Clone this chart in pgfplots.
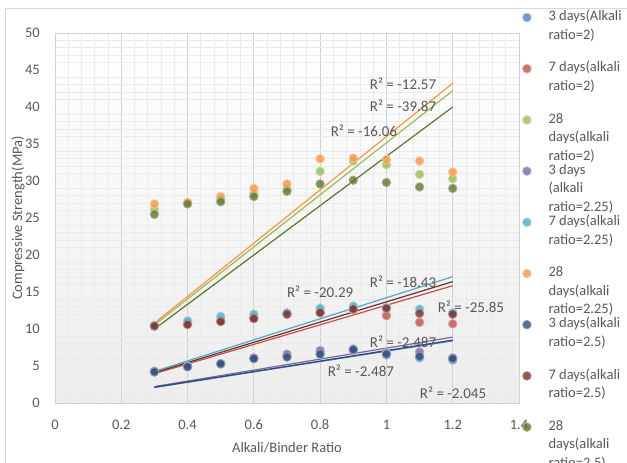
\documentclass[border=0pt]{standalone}
\usepackage{pgfplots}
\pgfplotsset{compat=1.18}
\usepackage{fontspec}
\setmainfont{Carlito}
\definecolor{cBlue}{HTML}{4F81BD}
\definecolor{cRed}{HTML}{C0504D}
\definecolor{cGreen}{HTML}{9BBB59}
\definecolor{cPurple}{HTML}{8064A2}
\definecolor{cAqua}{HTML}{4BACC6}
\definecolor{cOrange}{HTML}{F79646}
\definecolor{cDBlue}{HTML}{2C4D75}
\definecolor{cDRed}{HTML}{772C2A}
\definecolor{cDGreen}{HTML}{5F7530}
\definecolor{txt}{HTML}{595959}
\pgfplotsset{
  mk/.style={only marks, mark=*, mark size=4.3pt,
    mark options={fill=#1, fill opacity=0.8, draw=#1!55!white, line width=0.8pt}},
  tl/.style={forget plot, no markers, draw=#1, line width=1.2pt},
}
\newcommand{\lent}[1]{\smash{\raisebox{-4pt}{\parbox[t]{95pt}{\raggedright #1}}}}
\begin{document}
\begin{tikzpicture}
\useasboundingbox (0,0) rectangle (627pt,463pt);
\clip (0,0) rectangle (627pt,463pt);
\fill[white] (0,0) rectangle (627pt,463pt);
\draw[black!15, line width=0.8pt] (5pt,-20pt) -- (5pt,455pt) -- (660pt,455pt);
\begin{axis}[
  at={(55pt,60pt)}, anchor=south west,
  scale only axis, width=464pt, height=370pt,
  xmin=0, xmax=1.4, ymin=0, ymax=50,
  xtick={0,0.2,0.4,0.6,0.8,1,1.2,1.4},
  ytick={0,5,10,15,20,25,30,35,40,45,50},
  minor x tick num=4, minor y tick num=4,
  major tick length=0pt, minor tick length=0pt,
  xmajorgrids, xminorgrids, yminorgrids,
  major grid style={draw=black!18, line width=0.8pt},
  minor grid style={draw=black!8, line width=0.8pt},
  axis line style={draw=black!18, line width=0.8pt},
  axis background/.style={shade, top color=white, bottom color=black!7},
  /pgf/number format/assume math mode=true,
  tick label style={font=\fontsize{14.5}{17}\selectfont, text=txt, inner sep=0pt},
  xticklabel style={anchor=center, yshift=-22pt},
  yticklabel style={anchor=east, xshift=-15pt},
  xlabel={Alkali/Binder Ratio},
  ylabel={Compressive Strength(MPa)},
  label style={font=\fontsize{14.5}{17}\selectfont, text=txt},
  xlabel style={at={(axis description cs:0.5,-0.1216)}, anchor=center},
  ylabel style={at={(axis description cs:-0.0797,0.5)}, anchor=center},
  legend style={at={(axis description cs:1.0078,1.0535)}, anchor=north west,
    draw=none, fill=none, inner sep=0pt, outer sep=0pt, row sep=42.6pt, column sep=17.3pt,
    font=\fontsize{14.5}{18.5}\selectfont, text=txt,
    nodes={inner sep=0pt, outer sep=0pt}},
  legend cell align=left,
  legend image code/.code={\draw[#1, only marks] plot coordinates {(0pt,0pt)};},
]
% 3 days
\addplot[mk=cBlue] coordinates {(0.3,4.2) (0.4,4.9) (0.5,5.3) (0.6,6.0) (0.7,6.3) (0.8,6.7) (0.9,7.1) (1.0,6.5) (1.1,6.1) (1.2,5.8)};
\addlegendentry{\lent{3 days(Alkali\\ratio=2)}}
\addplot[mk=cRed] coordinates {(0.3,10.4) (0.4,10.7) (0.5,11.1) (0.6,11.5) (0.7,12.0) (0.8,12.3) (0.9,12.6) (1.0,11.8) (1.1,10.9) (1.2,10.7)};
\addlegendentry{\lent{7 days(alkali\\ratio=2)}}
\addplot[mk=cGreen] coordinates {(0.3,26.2) (0.4,27.0) (0.5,27.5) (0.6,28.3) (0.7,29.0) (0.8,31.3) (0.9,32.7) (1.0,32.2) (1.1,30.9) (1.2,30.3)};
\addlegendentry{\lent{28\\days(alkali\\ratio=2)}}
\addplot[mk=cPurple] coordinates {(0.3,4.3) (0.4,5.0) (0.5,5.3) (0.6,6.1) (0.7,6.6) (0.8,7.1) (0.9,7.3) (1.0,6.8) (1.1,6.9) (1.2,6.1)};
\addlegendentry{\lent{3 days\\(alkali\\ratio=2.25)}}
\addplot[mk=cAqua] coordinates {(0.3,10.5) (0.4,11.1) (0.5,11.7) (0.6,12.0) (0.7,12.2) (0.8,12.8) (0.9,13.1) (1.0,12.9) (1.1,12.7) (1.2,12.2)};
\addlegendentry{\lent{7 days(alkali\\ratio=2.25)}}
\addplot[mk=cOrange] coordinates {(0.3,26.9) (0.4,27.1) (0.5,27.9) (0.6,29.0) (0.7,29.6) (0.8,33.0) (0.9,33.1) (1.0,32.9) (1.1,32.7) (1.2,31.2)};
\addlegendentry{\lent{28\\days(alkali\\ratio=2.25)}}
\addplot[mk=cDBlue] coordinates {(0.3,4.2) (0.4,4.9) (0.5,5.3) (0.6,6.0) (0.7,6.2) (0.8,6.6) (0.9,7.2) (1.0,6.6) (1.1,6.3) (1.2,6.0)};
\addlegendentry{\lent{3 days(alkali\\ratio=2.5)}}
\addplot[mk=cDRed] coordinates {(0.3,10.4) (0.4,10.6) (0.5,11.0) (0.6,11.4) (0.7,12.0) (0.8,12.2) (0.9,12.7) (1.0,12.8) (1.1,12.1) (1.2,12.0)};
\addlegendentry{\lent{7 days(alkali\\ratio=2.5)}}
\addplot[mk=cDGreen] coordinates {(0.3,25.5) (0.4,26.9) (0.5,27.2) (0.6,27.9) (0.7,28.6) (0.8,29.6) (0.9,30.1) (1.0,29.8) (1.1,29.2) (1.2,29.0)};
\addlegendentry{\lent{28\\days(alkali\\ratio=2.5)}}
% trendlines
\addplot[tl=cBlue] coordinates {(0.3,2.1) (1.2,8.4)};
\addplot[tl=cRed] coordinates {(0.3,3.96) (1.2,15.85)};
\addplot[tl=cGreen] coordinates {(0.3,10.55) (1.2,42.2)};
\addplot[tl=cPurple] coordinates {(0.3,2.22) (1.2,8.9)};
\addplot[tl=cAqua] coordinates {(0.3,4.27) (1.2,17.07)};
\addplot[tl=cOrange] coordinates {(0.3,10.8) (1.2,43.2)};
\addplot[tl=cDBlue] coordinates {(0.3,2.13) (1.2,8.5)};
\addplot[tl=cDRed] coordinates {(0.3,4.1) (1.2,16.4)};
\addplot[tl=cDGreen] coordinates {(0.3,10.0) (1.2,40.0)};
% R^2 labels
\begin{scope}[every node/.style={font=\fontsize{15}{17}\selectfont, text=txt, inner sep=0pt}]
\node at (axis cs:1.05,43.1) {R² = -12.57};
\node at (axis cs:1.05,40.1) {R² = -39.87};
\node at (axis cs:0.932,36.8) {R² = -16.06};
\node at (axis cs:0.80,15.0) {R² = -20.29};
\node at (axis cs:1.05,16.35) {R² = -18.43};
\node at (axis cs:1.255,12.97) {R² = -25.85};
\node at (axis cs:1.05,8.24) {R² = -2.487};
\node at (axis cs:0.923,4.32) {R² = -2.487};
\node at (axis cs:1.201,1.35) {R² = -2.045};
\end{scope}
\end{axis}
\end{tikzpicture}
\end{document}
